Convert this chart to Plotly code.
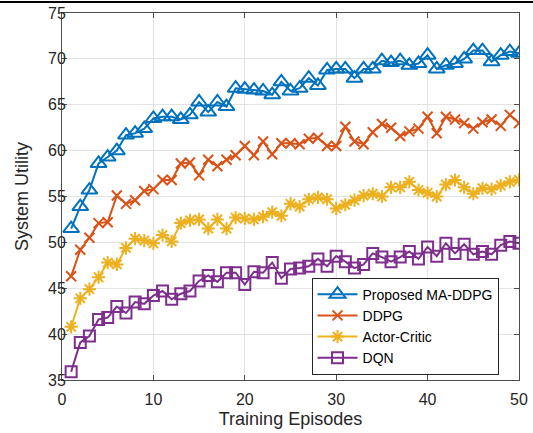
import plotly.graph_objects as go

episodes = list(range(1, 51))

ma_ddpg = [51.5, 53.9, 55.7, 58.6, 59.3, 60.0, 61.7, 61.9, 62.4, 63.5,
           63.7, 63.7, 63.4, 63.9, 65.3, 64.2, 65.3, 64.8, 66.8, 66.7,
           66.6, 66.5, 66.1, 67.5, 66.5, 66.8, 67.9, 67.1, 68.8, 68.9,
           68.9, 67.9, 68.9, 68.9, 69.8, 69.6, 69.8, 69.3, 69.5, 70.4,
           68.9, 69.3, 69.5, 70.0, 70.9, 70.9, 69.7, 70.4, 70.8, 70.6]

ddpg = [46.3, 49.2, 50.5, 52.1, 52.2, 55.1, 54.2, 54.6, 55.6, 55.8,
        56.8, 56.8, 58.6, 58.7, 57.3, 59.0, 58.3, 59.0, 59.5, 60.5,
        59.5, 61.0, 59.6, 60.8, 60.8, 60.7, 61.3, 61.4, 60.5, 60.5,
        62.6, 61.0, 60.7, 62.0, 62.9, 62.5, 61.6, 62.1, 62.4, 63.7,
        61.9, 63.7, 63.4, 63.0, 62.4, 63.1, 63.4, 62.7, 63.9, 63.0]

actor_critic = [40.8, 43.9, 44.9, 46.2, 47.8, 47.6, 49.4, 50.4, 50.2, 49.9,
                50.8, 50.1, 52.1, 52.4, 52.5, 51.5, 52.5, 51.5, 52.7, 52.6,
                52.5, 52.8, 53.3, 52.9, 54.2, 53.9, 54.7, 54.9, 54.7, 53.7,
                54.1, 54.6, 55.1, 55.3, 55.0, 56.0, 56.0, 56.6, 55.7, 55.4,
                55.0, 56.3, 56.8, 56.0, 55.3, 55.9, 55.8, 56.2, 56.6, 56.8]

dqn = [35.9, 39.1, 39.8, 41.6, 41.8, 43.0, 42.3, 43.5, 43.3, 44.2,
       44.7, 43.8, 44.4, 44.7, 45.8, 46.4, 45.7, 46.7, 46.7, 45.4,
       46.8, 46.7, 47.8, 46.1, 47.1, 47.2, 47.4, 48.2, 47.4, 48.5,
       47.9, 47.2, 47.6, 48.8, 48.4, 47.9, 48.4, 49.0, 48.2, 49.5,
       48.5, 49.9, 48.8, 49.8, 48.7, 49.0, 48.7, 49.7, 50.1, 49.9]

series_names = ["Proposed MA-DDPG", "DDPG", "Actor-Critic", "DQN"]
x_ticks = [0, 10, 20, 30, 40, 50]
y_ticks = [35, 40, 45, 50, 55, 60, 65, 70, 75]

colors = ["#0072BD", "#D95319", "#EDB120", "#7E2F8E"]
symbols = ["triangle-up-open", "x-thin-open", "asterisk-open", "square-open"]
sizes = [14, 10, 11, 11]
data = [ma_ddpg, ddpg, actor_critic, dqn]

fig = go.Figure()
for name, ys, c, s, sz in zip(series_names, data, colors, symbols, sizes):
    fig.add_trace(go.Scatter(
        x=episodes, y=ys, name=name, mode="lines+markers",
        line=dict(color=c, width=2),
        marker=dict(symbol=s, size=sz, color=c, line=dict(color=c, width=2)),
    ))

FONT = "Liberation Sans, Arial"
axis_common = dict(
    showline=True, linecolor="#4d4d4d", linewidth=1, mirror="ticks",
    ticks="inside", ticklen=5, tickcolor="#4d4d4d", automargin=False,
    showgrid=True, gridcolor="#e3e3e3", gridwidth=1, zeroline=False,
    tickfont=dict(family=FONT, size=16, color="#262626"),
)

fig.update_layout(
    width=533, height=433,
    margin=dict(l=62, r=14, t=13, b=53),
    paper_bgcolor="white", plot_bgcolor="white",
    font=dict(family=FONT, color="#262626"),
    xaxis=dict(range=[0, 50], tickvals=x_ticks, ticklabelstandoff=5,
               title=dict(text="Training Episodes", font=dict(size=18, color="#262626"), standoff=5),
               **axis_common),
    yaxis=dict(range=[35, 75], tickvals=y_ticks, ticklabelstandoff=-8,
               title=dict(text="System Utility", font=dict(size=18, color="#262626"), standoff=14),
               **axis_common),
    legend=dict(x=0.546, y=0.279, xanchor="left", yanchor="top",
                bgcolor="white", bordercolor="#262626", borderwidth=1,
                font=dict(family=FONT, size=14, color="#000000"),
                itemwidth=40),
    showlegend=True,
    shapes=[dict(type="line", xref="paper", yref="paper", x0=-0.2, x1=1.1,
                 y0=1.03, y1=1.03, line=dict(color="#000000", width=2))],
)

fig.write_html("out.html", config={"displayModeBar": False},
               post_script="document.body.style.margin='0';document.body.style.padding='0';")
